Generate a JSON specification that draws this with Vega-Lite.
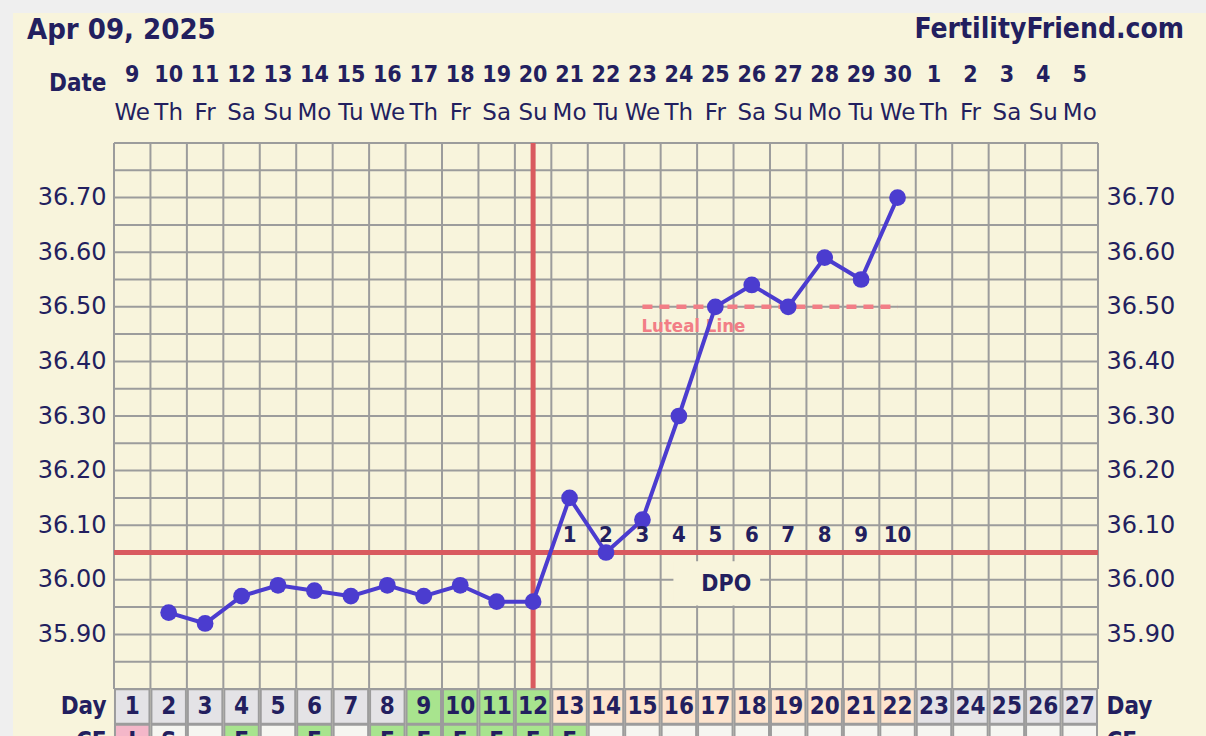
{
  "$schema": "https://vega.github.io/schema/vega-lite/v6.json",
  "background": "#efefef",
  "padding": {"left": 13, "top": 13, "right": 0, "bottom": 0},
  "spacing": 0,
  "bounds": "flush",
  "config": {
    "view": {"stroke": null, "fill": "#f8f4dc"},
    "font": "DejaVu Sans",
    "text": {"color": "#231f5f"}
  },
  "resolve": {"scale": {"fill": "independent"}},
  "datasets": {
    "days": [
      {"day": 1, "date": "9", "wd": "We", "zone": "none", "cf": "I", "cfzone": "menses"},
      {"day": 2, "date": "10", "wd": "Th", "zone": "none", "cf": "S", "cfzone": "none"},
      {"day": 3, "date": "11", "wd": "Fr", "zone": "none", "cf": "", "cfzone": "none"},
      {"day": 4, "date": "12", "wd": "Sa", "zone": "none", "cf": "E", "cfzone": "fertile"},
      {"day": 5, "date": "13", "wd": "Su", "zone": "none", "cf": "", "cfzone": "none"},
      {"day": 6, "date": "14", "wd": "Mo", "zone": "none", "cf": "E", "cfzone": "fertile"},
      {"day": 7, "date": "15", "wd": "Tu", "zone": "none", "cf": "", "cfzone": "none"},
      {"day": 8, "date": "16", "wd": "We", "zone": "none", "cf": "E", "cfzone": "fertile"},
      {"day": 9, "date": "17", "wd": "Th", "zone": "fertile", "cf": "E", "cfzone": "fertile"},
      {"day": 10, "date": "18", "wd": "Fr", "zone": "fertile", "cf": "E", "cfzone": "fertile"},
      {"day": 11, "date": "19", "wd": "Sa", "zone": "fertile", "cf": "E", "cfzone": "fertile"},
      {"day": 12, "date": "20", "wd": "Su", "zone": "fertile", "cf": "E", "cfzone": "fertile"},
      {"day": 13, "date": "21", "wd": "Mo", "zone": "luteal", "cf": "E", "cfzone": "fertile"},
      {"day": 14, "date": "22", "wd": "Tu", "zone": "luteal", "cf": "", "cfzone": "none"},
      {"day": 15, "date": "23", "wd": "We", "zone": "luteal", "cf": "", "cfzone": "none"},
      {"day": 16, "date": "24", "wd": "Th", "zone": "luteal", "cf": "", "cfzone": "none"},
      {"day": 17, "date": "25", "wd": "Fr", "zone": "luteal", "cf": "", "cfzone": "none"},
      {"day": 18, "date": "26", "wd": "Sa", "zone": "luteal", "cf": "", "cfzone": "none"},
      {"day": 19, "date": "27", "wd": "Su", "zone": "luteal", "cf": "", "cfzone": "none"},
      {"day": 20, "date": "28", "wd": "Mo", "zone": "luteal", "cf": "", "cfzone": "none"},
      {"day": 21, "date": "29", "wd": "Tu", "zone": "luteal", "cf": "", "cfzone": "none"},
      {"day": 22, "date": "30", "wd": "We", "zone": "luteal", "cf": "", "cfzone": "none"},
      {"day": 23, "date": "1", "wd": "Th", "zone": "none", "cf": "", "cfzone": "none"},
      {"day": 24, "date": "2", "wd": "Fr", "zone": "none", "cf": "", "cfzone": "none"},
      {"day": 25, "date": "3", "wd": "Sa", "zone": "none", "cf": "", "cfzone": "none"},
      {"day": 26, "date": "4", "wd": "Su", "zone": "none", "cf": "", "cfzone": "none"},
      {"day": 27, "date": "5", "wd": "Mo", "zone": "none", "cf": "", "cfzone": "none"}
    ],
    "temps": [
      {"day": 2, "temp": 35.94, "dpo": null},
      {"day": 3, "temp": 35.92, "dpo": null},
      {"day": 4, "temp": 35.97, "dpo": null},
      {"day": 5, "temp": 35.99, "dpo": null},
      {"day": 6, "temp": 35.98, "dpo": null},
      {"day": 7, "temp": 35.97, "dpo": null},
      {"day": 8, "temp": 35.99, "dpo": null},
      {"day": 9, "temp": 35.97, "dpo": null},
      {"day": 10, "temp": 35.99, "dpo": null},
      {"day": 11, "temp": 35.96, "dpo": null},
      {"day": 12, "temp": 35.96, "dpo": null},
      {"day": 13, "temp": 36.15, "dpo": 1},
      {"day": 14, "temp": 36.05, "dpo": 2},
      {"day": 15, "temp": 36.11, "dpo": 3},
      {"day": 16, "temp": 36.30, "dpo": 4},
      {"day": 17, "temp": 36.50, "dpo": 5},
      {"day": 18, "temp": 36.54, "dpo": 6},
      {"day": 19, "temp": 36.50, "dpo": 7},
      {"day": 20, "temp": 36.59, "dpo": 8},
      {"day": 21, "temp": 36.55, "dpo": 9},
      {"day": 22, "temp": 36.70, "dpo": 10}
    ],
    "hgrid": [
      {"t": 35.80}, {"t": 35.85}, {"t": 35.90}, {"t": 35.95}, {"t": 36.00}, {"t": 36.05}, {"t": 36.10},
      {"t": 36.15}, {"t": 36.20}, {"t": 36.25}, {"t": 36.30}, {"t": 36.35}, {"t": 36.40}, {"t": 36.45},
      {"t": 36.50}, {"t": 36.55}, {"t": 36.60}, {"t": 36.65}, {"t": 36.70}, {"t": 36.75}, {"t": 36.80}
    ],
    "vgrid": [
      {"d": 0.5}, {"d": 1.5}, {"d": 2.5}, {"d": 3.5}, {"d": 4.5}, {"d": 5.5}, {"d": 6.5}, {"d": 7.5},
      {"d": 8.5}, {"d": 9.5}, {"d": 10.5}, {"d": 11.5}, {"d": 12.5}, {"d": 13.5}, {"d": 14.5}, {"d": 15.5},
      {"d": 16.5}, {"d": 17.5}, {"d": 18.5}, {"d": 19.5}, {"d": 20.5}, {"d": 21.5}, {"d": 22.5}, {"d": 23.5},
      {"d": 24.5}, {"d": 25.5}, {"d": 26.5}, {"d": 27.5}
    ],
    "markers": [
      {"coverline": 36.05, "ovulation_day": 12, "luteal_start": 15, "luteal_end": 22, "luteal_temp": 36.50}
    ]
  },
  "vconcat": [
    {
      "width": 1193,
      "height": 34,
      "layer": [
        {
          "data": {"values": [{"label": "Apr 09, 2025", "pos": 0}]},
          "mark": {"type": "text", "align": "left", "dx": 14, "fontSize": 29, "fontWeight": "bold", "font": "DejaVu Sans Condensed, DejaVu Sans"},
          "encoding": {
            "x": {"field": "pos", "type": "quantitative", "scale": {"domain": [0, 1]}, "axis": null},
            "text": {"field": "label"}
          }
        },
        {
          "data": {"values": [{"label": "FertilityFriend.com", "pos": 1}]},
          "mark": {"type": "text", "align": "right", "dx": -22, "fontSize": 28, "fontWeight": "bold", "font": "DejaVu Sans Condensed, DejaVu Sans"},
          "encoding": {
            "x": {"field": "pos", "type": "quantitative", "scale": {"domain": [0, 1]}, "axis": null},
            "text": {"field": "label"}
          }
        }
      ]
    },
    {
      "width": 1193,
      "height": 96,
      "data": {"name": "days"},
      "layer": [
        {
          "mark": {"type": "text", "fontSize": 23, "fontWeight": "bold", "font": "DejaVu Sans Condensed, DejaVu Sans", "dy": 4},
          "encoding": {
            "x": {"field": "day", "type": "quantitative", "scale": {"domain": [-2.2714, 30.4638], "nice": false, "zero": false}, "axis": null},
            "y": {"datum": "num", "type": "nominal", "scale": {"type": "band", "domain": ["num", "wd"], "paddingInner": 0, "paddingOuter": 0},
              "axis": {"orient": "left", "offset": -101, "labelExpr": "datum.value == 'num' ? 'Date' : ''", "domain": false, "ticks": false, "labelPadding": 8, "labelFontSize": 24, "labelFontWeight": "bold", "labelFont": "DejaVu Sans Condensed, DejaVu Sans", "labelColor": "#231f5f", "labelOffset": 13, "title": null}},
            "text": {"field": "date"}
          }
        },
        {
          "mark": {"type": "text", "fontSize": 23, "dy": -6},
          "encoding": {
            "x": {"field": "day", "type": "quantitative", "axis": null},
            "y": {"datum": "wd", "type": "nominal"},
            "text": {"field": "wd"}
          }
        }
      ]
    },
    {
      "width": 1193,
      "height": 546,
      "resolve": {"axis": {"y": "independent"}},
      "layer": [
        {
          "data": {"name": "hgrid"},
          "mark": {"type": "rule", "color": "#9c9c9c", "strokeWidth": 2},
          "encoding": {
            "y": {"field": "t", "type": "quantitative", "scale": {"domain": [35.8, 36.8], "nice": false, "zero": false},
              "axis": {"orient": "left", "offset": -101, "values": [35.9, 36.0, 36.1, 36.2, 36.3, 36.4, 36.5, 36.6, 36.7], "format": ".2f", "domain": false, "ticks": false, "grid": false, "labelPadding": 8, "labelFontSize": 24, "labelColor": "#231f5f", "title": null}},
            "x": {"datum": 0.5, "type": "quantitative", "scale": {"domain": [-2.2714, 30.4638], "nice": false, "zero": false}, "axis": null},
            "x2": {"datum": 27.5}
          }
        },
        {
          "data": {"name": "vgrid"},
          "mark": {"type": "rule", "color": "#9c9c9c", "strokeWidth": 2},
          "encoding": {
            "x": {"field": "d", "type": "quantitative", "axis": null},
            "y": {"datum": 35.8, "type": "quantitative", "axis": null},
            "y2": {"datum": 36.8}
          }
        },
        {
          "data": {"values": [{"label": "DPO"}]},
          "mark": {"type": "rect", "fill": "#f8f4dc"},
          "encoding": {
            "x": {"datum": 15.85, "type": "quantitative", "axis": null},
            "x2": {"datum": 18.23},
            "y": {"datum": 35.953, "type": "quantitative", "axis": null},
            "y2": {"datum": 36.034}
          }
        },
        {
          "data": {"name": "markers"},
          "mark": {"type": "rule", "color": "#d95a5f", "strokeWidth": 5},
          "encoding": {
            "y": {"field": "coverline", "type": "quantitative", "axis": null},
            "x": {"datum": 0.5, "type": "quantitative", "axis": null},
            "x2": {"datum": 27.5}
          }
        },
        {
          "data": {"name": "markers"},
          "mark": {"type": "rule", "color": "#d95a5f", "strokeWidth": 5},
          "encoding": {
            "x": {"field": "ovulation_day", "type": "quantitative", "axis": null},
            "y": {"datum": 35.8, "type": "quantitative", "axis": null},
            "y2": {"datum": 36.8}
          }
        },
        {
          "data": {"name": "markers"},
          "mark": {"type": "rule", "color": "#f27e86", "strokeWidth": 4.5, "strokeDash": [10, 7]},
          "encoding": {
            "x": {"field": "luteal_start", "type": "quantitative", "axis": null},
            "x2": {"field": "luteal_end"},
            "y": {"field": "luteal_temp", "type": "quantitative", "axis": null}
          }
        },
        {
          "data": {"name": "markers"},
          "mark": {"type": "text", "color": "#f27e86", "align": "left", "baseline": "middle", "dy": 19, "dx": -1, "fontSize": 18.5, "fontWeight": "bold", "font": "DejaVu Sans Condensed, DejaVu Sans"},
          "encoding": {
            "x": {"field": "luteal_start", "type": "quantitative", "axis": null},
            "y": {"field": "luteal_temp", "type": "quantitative", "axis": null},
            "text": {"value": "Luteal Line"}
          }
        },
        {
          "data": {"name": "temps"},
          "mark": {"type": "line", "color": "#4b3ccf", "strokeWidth": 4},
          "encoding": {
            "x": {"field": "day", "type": "quantitative", "axis": null},
            "y": {"field": "temp", "type": "quantitative", "axis": null}
          }
        },
        {
          "data": {"name": "temps"},
          "mark": {"type": "circle", "color": "#4b3ccf", "opacity": 1, "size": 280},
          "encoding": {
            "x": {"field": "day", "type": "quantitative", "axis": null},
            "y": {"field": "temp", "type": "quantitative",
              "axis": {"orient": "right", "offset": -108, "values": [35.9, 36.0, 36.1, 36.2, 36.3, 36.4, 36.5, 36.6, 36.7], "format": ".2f", "domain": false, "ticks": false, "grid": false, "labelPadding": 8, "labelFontSize": 24, "labelColor": "#231f5f", "title": null}}
          }
        },
        {
          "data": {"name": "temps"},
          "transform": [{"filter": "datum.dpo != null"}],
          "mark": {"type": "text", "fontSize": 22, "fontWeight": "bold", "font": "DejaVu Sans Condensed, DejaVu Sans", "dy": -18},
          "encoding": {
            "x": {"field": "day", "type": "quantitative", "axis": null},
            "y": {"datum": 36.05, "type": "quantitative", "axis": null},
            "text": {"field": "dpo"}
          }
        },
        {
          "data": {"values": [{"label": "DPO"}]},
          "mark": {"type": "text", "fontSize": 23, "fontWeight": "bold", "font": "DejaVu Sans Condensed, DejaVu Sans"},
          "encoding": {
            "x": {"datum": 17.3, "type": "quantitative", "axis": null},
            "y": {"datum": 35.993, "type": "quantitative", "axis": null},
            "text": {"field": "label"}
          }
        }
      ]
    },
    {
      "width": 1193,
      "height": 35,
      "data": {"name": "days"},
      "resolve": {"axis": {"y": "independent"}},
      "layer": [
        {
          "mark": {"type": "square", "filled": true, "size": 1190, "stroke": "#9c9c9c", "strokeWidth": 2, "opacity": 1},
          "encoding": {
            "x": {"field": "day", "type": "quantitative", "scale": {"domain": [-2.2714, 30.4638], "nice": false, "zero": false}, "axis": null},
            "y": {"datum": "Day", "type": "nominal", "scale": {"type": "band", "domain": ["Day"], "paddingInner": 0, "paddingOuter": 0},
              "axis": {"orient": "left", "offset": -101, "domain": false, "ticks": false, "labelPadding": 8, "labelFontSize": 24, "labelFontWeight": "bold", "labelFont": "DejaVu Sans Condensed, DejaVu Sans", "labelColor": "#231f5f", "title": null}},
            "fill": {"field": "zone", "type": "nominal", "scale": {"domain": ["none", "fertile", "luteal"], "range": ["#e4e3e6", "#a8e48e", "#fde4cd"]}, "legend": null}
          }
        },
        {
          "mark": {"type": "text", "fontSize": 24, "fontWeight": "bold", "font": "DejaVu Sans Condensed, DejaVu Sans"},
          "encoding": {
            "x": {"field": "day", "type": "quantitative", "axis": null},
            "y": {"datum": "Day", "type": "nominal",
              "axis": {"orient": "right", "offset": -108, "domain": false, "ticks": false, "labelPadding": 8, "labelFontSize": 24, "labelFontWeight": "bold", "labelFont": "DejaVu Sans Condensed, DejaVu Sans", "labelColor": "#231f5f", "title": null}},
            "text": {"field": "day"}
          }
        }
      ]
    },
    {
      "width": 1193,
      "height": 36,
      "data": {"name": "days"},
      "resolve": {"axis": {"y": "independent"}},
      "layer": [
        {
          "mark": {"type": "square", "filled": true, "size": 1190, "stroke": "#9c9c9c", "strokeWidth": 2, "opacity": 1},
          "encoding": {
            "x": {"field": "day", "type": "quantitative", "scale": {"domain": [-2.2714, 30.4638], "nice": false, "zero": false}, "axis": null},
            "y": {"datum": "CF", "type": "nominal", "scale": {"type": "band", "domain": ["CF"], "paddingInner": 0, "paddingOuter": 0},
              "axis": {"orient": "left", "offset": -101, "domain": false, "ticks": false, "labelPadding": 8, "labelFontSize": 24, "labelFontWeight": "bold", "labelFont": "DejaVu Sans Condensed, DejaVu Sans", "labelColor": "#231f5f", "title": null}},
            "fill": {"field": "cfzone", "type": "nominal", "scale": {"domain": ["none", "fertile", "menses"], "range": ["#f6f6f1", "#a8e48e", "#f4b7c9"]}, "legend": null}
          }
        },
        {
          "mark": {"type": "text", "fontSize": 24, "fontWeight": "bold", "font": "DejaVu Sans Condensed, DejaVu Sans"},
          "encoding": {
            "x": {"field": "day", "type": "quantitative", "axis": null},
            "y": {"datum": "CF", "type": "nominal",
              "axis": {"orient": "right", "offset": -108, "domain": false, "ticks": false, "labelPadding": 8, "labelFontSize": 24, "labelFontWeight": "bold", "labelFont": "DejaVu Sans Condensed, DejaVu Sans", "labelColor": "#231f5f", "title": null}},
            "text": {"field": "cf"}
          }
        }
      ]
    }
  ]
}
